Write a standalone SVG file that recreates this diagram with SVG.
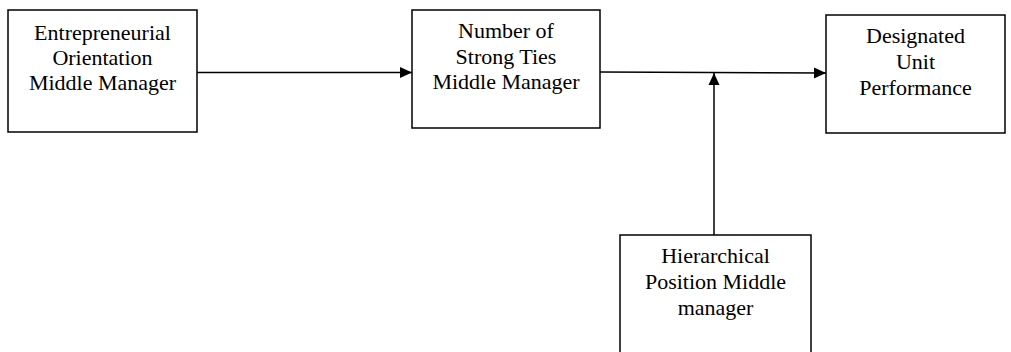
<svg xmlns="http://www.w3.org/2000/svg" width="1011" height="352" viewBox="0 0 1011 352">
<style>
.box{fill:#fff;stroke:#000;stroke-width:1.5}
.t{font-family:"Liberation Serif","Times New Roman",serif;font-size:22px;fill:#000;text-anchor:middle}
.c{stroke:#000;stroke-width:1.5;fill:none}
</style>
<defs>
<marker id="ah" markerUnits="userSpaceOnUse" markerWidth="12" markerHeight="12" viewBox="0 0 12 12" refX="12" refY="6" orient="auto">
<path d="M0,0.5 L12,6 L0,11.5 Z" fill="#000"/>
</marker>
</defs>
<rect width="1011" height="352" fill="#fff"/>
<g id="connectors">
<line class="c" x1="197" y1="72.5" x2="412" y2="72.5" marker-end="url(#ah)"/>
<line class="c" x1="600" y1="72" x2="826" y2="73" marker-end="url(#ah)"/>
<line class="c" x1="714" y1="235" x2="714" y2="73" marker-end="url(#ah)"/>
</g>
<g id="node-eo">
<rect class="box" x="8" y="10" width="189" height="122"/>
<text class="t" x="102.5" y="40">Entrepreneurial</text>
<text class="t" x="102.5" y="65">Orientation</text>
<text class="t" x="102.5" y="90">Middle Manager</text>
</g>
<g id="node-ties">
<rect class="box" x="412" y="10" width="188" height="118"/>
<text class="t" x="506" y="38">Number of</text>
<text class="t" x="506" y="64">Strong Ties</text>
<text class="t" x="506" y="89">Middle Manager</text>
</g>
<g id="node-perf">
<rect class="box" x="826" y="15" width="179" height="118"/>
<text class="t" x="915.5" y="43">Designated</text>
<text class="t" x="915.5" y="69">Unit</text>
<text class="t" x="915.5" y="95">Performance</text>
</g>
<g id="node-hier">
<rect class="box" x="620" y="235" width="191" height="130"/>
<text class="t" x="715.5" y="263">Hierarchical</text>
<text class="t" x="715.5" y="289">Position Middle</text>
<text class="t" x="715.5" y="315">manager</text>
</g>
</svg>
